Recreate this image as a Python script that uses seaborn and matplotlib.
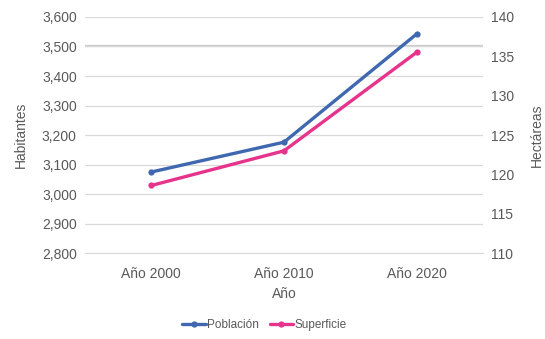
import seaborn as sns
import matplotlib.pyplot as plt
import matplotlib.ticker as mticker
import pandas as pd

sns.set_style("white")
plt.rcParams['font.family'] = ['Liberation Sans', 'DejaVu Sans']

anios = ["Año 2000", "Año 2010", "Año 2020"]
poblacion = [3075, 3176, 3542]
superficie = [118.6, 123.0, 135.5]

df = pd.DataFrame({"Año": anios, "Población": poblacion, "Superficie": superficie})

azul = "#4068B0"
rosa = "#E6348C"
gris = "#595959"

fig = plt.figure(figsize=(5.45, 3.39), dpi=100)
ax = fig.add_axes([0.156, 0.253, 0.730, 0.697])
ax2 = ax.twinx()

sns.lineplot(data=df, x="Año", y="Población", ax=ax, color=azul, marker="o",
             markersize=4.5, markeredgewidth=0, linewidth=2.4, sort=False, label="Población", legend=False)
sns.lineplot(data=df, x="Año", y="Superficie", ax=ax2, color=rosa, marker="o",
             markersize=4.5, markeredgewidth=0, linewidth=2.4, sort=False, label="Superficie", legend=False)

ax.set_ylim(2800, 3600)
ax.set_yticks(range(2800, 3601, 100))
ax.yaxis.set_major_formatter(mticker.StrMethodFormatter("{x:,.0f}"))
ax2.set_ylim(110, 140)
ax2.set_yticks(range(110, 141, 5))
ax.set_xlim(-0.5, 2.5)

ax.grid(axis="y", color="#D9D9D9", linewidth=0.9)
ax.axhline(3500, color="#C8C8C8", linewidth=1.6, zorder=0)
ax.set_axisbelow(True)
for a in (ax, ax2):
    for s in a.spines.values():
        s.set_visible(False)
    a.tick_params(colors=gris, labelsize=10, length=0, pad=6)
ax.spines["bottom"].set_visible(True)
ax.spines["bottom"].set_color("#D9D9D9")
ax.tick_params(axis="x", length=4, color="#D9D9D9", direction="in", pad=10)

ax.set_xlabel("Año", color=gris, fontsize=10, labelpad=4)
ax.set_ylabel("Habitantes", color=gris, fontsize=10, labelpad=10)
ax2.set_ylabel("Hectáreas", color=gris, fontsize=10, labelpad=11)

h1, l1 = ax.get_legend_handles_labels()
h2, l2 = ax2.get_legend_handles_labels()
fig.legend(h1 + h2, l1 + l2, loc="center", bbox_to_anchor=(0.485, 0.04), ncol=2,
           frameon=False, fontsize=8.5, labelcolor=gris, handlelength=2.0,
           handletextpad=0.1, columnspacing=0.9)

fig.savefig("out.png", dpi=100)
